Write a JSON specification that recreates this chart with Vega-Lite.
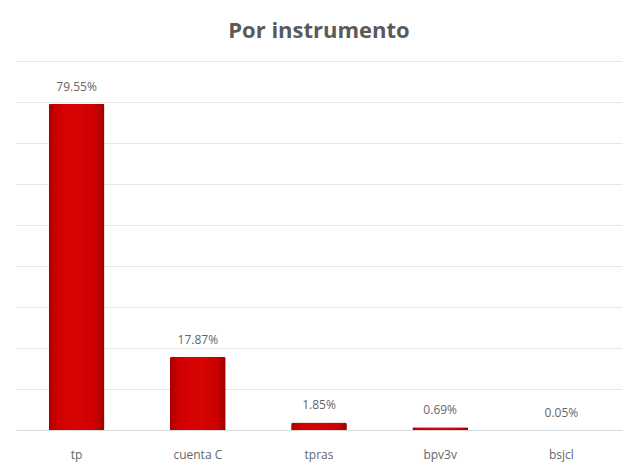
{
  "$schema": "https://vega.github.io/schema/vega-lite/v6.json",
  "autosize": "none",
  "width": 606,
  "height": 369,
  "padding": {"left": 16, "top": 61, "right": 4, "bottom": 32},
  "background": "white",
  "title": {
    "text": "Por instrumento",
    "fontSize": 22,
    "fontWeight": "bold",
    "font": "Open Sans",
    "color": "#5a5a5a",
    "offset": 18,
    "anchor": "middle"
  },
  "config": {"view": {"stroke": null}},
  "data": {
    "values": [
      {"instrumento": "tp", "share": 0.7955},
      {"instrumento": "cuenta C", "share": 0.1787},
      {"instrumento": "tpras", "share": 0.0185},
      {"instrumento": "bpv3v", "share": 0.0069},
      {"instrumento": "bsjcl", "share": 0.0005}
    ]
  },
  "encoding": {
    "x": {
      "field": "instrumento",
      "type": "nominal",
      "sort": null,
      "scale": {"paddingInner": 0.54, "paddingOuter": 0.27},
      "axis": {
        "title": null,
        "labelAngle": 0,
        "ticks": false,
        "labelPadding": 19,
        "labelFont": "Open Sans",
        "labelFontSize": 12,
        "labelColor": "#666666",
        "domainColor": "#d9d9d9",
        "domainWidth": 1
      }
    },
    "y": {
      "field": "share",
      "type": "quantitative",
      "scale": {"domain": [0, 0.9], "nice": false},
      "axis": {
        "title": null,
        "labels": false,
        "ticks": false,
        "domain": false,
        "values": [0.1, 0.2, 0.3, 0.4, 0.5, 0.6, 0.7, 0.8, 0.9],
        "gridColor": "#e6e6e6",
        "gridWidth": 1
      }
    }
  },
  "layer": [
    {
      "mark": {
        "type": "bar",
        "cornerRadiusTopLeft": 2,
        "cornerRadiusTopRight": 2,
        "color": {
          "gradient": "linear",
          "x1": 0, "x2": 1, "y1": 0, "y2": 0,
          "stops": [
            {"offset": 0, "color": "#a80000"},
            {"offset": 0.15, "color": "#d00000"},
            {"offset": 0.5, "color": "#d80404"},
            {"offset": 0.85, "color": "#cc0000"},
            {"offset": 1, "color": "#9a0000"}
          ]
        }
      }
    },
    {
      "mark": {
        "type": "text",
        "baseline": "bottom",
        "dy": -10,
        "font": "Open Sans",
        "fontSize": 12,
        "color": "#666666"
      },
      "encoding": {
        "text": {"field": "share", "type": "quantitative", "format": ".2%"}
      }
    }
  ]
}
